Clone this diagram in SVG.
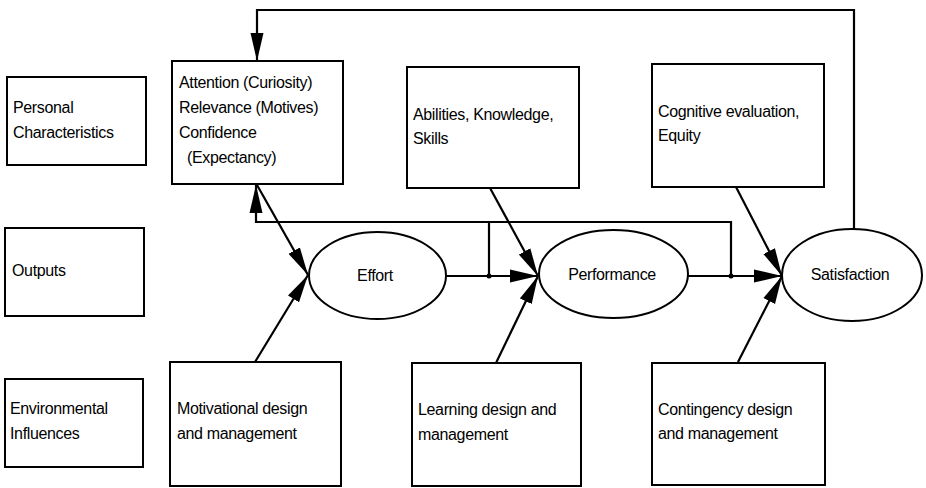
<svg xmlns="http://www.w3.org/2000/svg" width="926" height="488" viewBox="0 0 926 488">
<defs>
<marker id="ah" markerUnits="userSpaceOnUse" markerWidth="30" markerHeight="14" refX="28" refY="7" orient="auto">
<path d="M0,0.5 L28,7 L0,13.5 z" fill="#000"/>
</marker>
<style>
rect, ellipse { fill: #fff; stroke: #000; stroke-width: 2; }
.c path, .c line { stroke: #000; stroke-width: 2.2; fill: none; }
text { font-family: "Liberation Sans", Arial, sans-serif; font-size: 16px; letter-spacing: -0.35px; fill: #000; }
.m { text-anchor: middle; }
</style>
</defs>
<rect width="926" height="488" fill="#fff" style="stroke:none"/>

<g id="personal">
<rect x="7" y="77" width="139" height="88"/>
<text x="13" y="113">Personal</text>
<text x="13" y="138">Characteristics</text>
</g>
<g id="outputs">
<rect x="5" y="228" width="139" height="88"/>
<text x="12" y="276">Outputs</text>
</g>
<g id="environmental">
<rect x="5" y="379" width="138" height="88"/>
<text x="10" y="414">Environmental</text>
<text x="10" y="439">Influences</text>
</g>

<g id="arcs">
<rect x="172" y="61" width="171" height="123"/>
<text x="179" y="88">Attention (Curiosity)</text>
<text x="179" y="113">Relevance (Motives)</text>
<text x="179" y="138">Confidence</text>
<text x="187" y="163">(Expectancy)</text>
</g>
<g id="abilities">
<rect x="407" y="67" width="172" height="121"/>
<text x="413" y="120">Abilities, Knowledge,</text>
<text x="413" y="144">Skills</text>
</g>
<g id="cognitive">
<rect x="652" y="64" width="172" height="123"/>
<text x="658" y="117">Cognitive evaluation,</text>
<text x="658" y="141">Equity</text>
</g>

<g id="motivational">
<rect x="170" y="362" width="171" height="124"/>
<text x="177" y="414">Motivational design</text>
<text x="177" y="439">and management</text>
</g>
<g id="learning">
<rect x="412" y="363" width="169" height="123"/>
<text x="418" y="415">Learning design and</text>
<text x="418" y="440">management</text>
</g>
<g id="contingency">
<rect x="652" y="363" width="173" height="122"/>
<text x="658" y="415">Contingency design</text>
<text x="658" y="439">and management</text>
</g>

<g class="c" id="connectors">
<path d="M854,229 L854,10 L257,10 L257,61" marker-end="url(#ah)"/>
<path d="M731,276 L731,222 L256,222 L256,185" marker-end="url(#ah)"/>
<path d="M489,276 L489,222"/>
<line x1="257" y1="185" x2="308" y2="275" marker-end="url(#ah)"/>
<line x1="255" y1="362" x2="308" y2="275" marker-end="url(#ah)"/>
<line x1="446" y1="276" x2="538" y2="276" marker-end="url(#ah)"/>
<line x1="490" y1="188" x2="538" y2="276" marker-end="url(#ah)"/>
<line x1="496" y1="363" x2="538" y2="276" marker-end="url(#ah)"/>
<line x1="688" y1="276" x2="782" y2="276" marker-end="url(#ah)"/>
<line x1="736" y1="187" x2="782" y2="276" marker-end="url(#ah)"/>
<line x1="738" y1="362" x2="782" y2="276" marker-end="url(#ah)"/>
<circle cx="489" cy="276" r="2.5" fill="#000"/>
<circle cx="731" cy="276" r="2.5" fill="#000"/>
</g>

<g id="effort">
<ellipse cx="377.5" cy="275.5" rx="68.5" ry="43.5"/>
<text class="m" x="375" y="281">Effort</text>
</g>
<g id="performance">
<ellipse cx="613.5" cy="274" rx="74.5" ry="44"/>
<text class="m" x="612" y="280">Performance</text>
</g>
<g id="satisfaction">
<ellipse cx="852" cy="275" rx="70" ry="46"/>
<text class="m" x="850" y="280">Satisfaction</text>
</g>
</svg>
